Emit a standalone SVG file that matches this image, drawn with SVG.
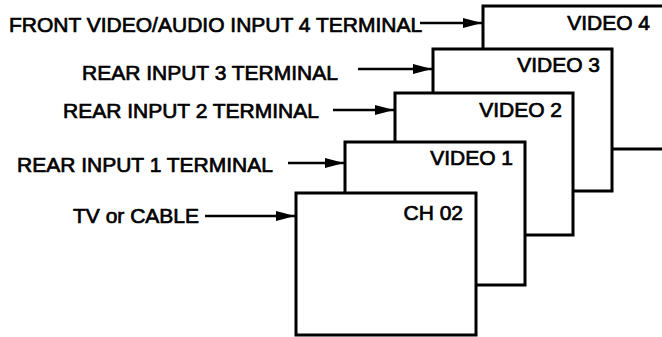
<svg xmlns="http://www.w3.org/2000/svg" width="662" height="337" viewBox="0 0 662 337">
  <style>
    .scr { fill: #ffffff; stroke: #000000; stroke-width: 3; }
    .lbl { font-family: "Liberation Sans", Arial, sans-serif; font-size: 21px; fill: #000000; stroke: #000000; stroke-width: 0.7px; }
    .vid { text-anchor: end; }
    .arr { stroke: #000000; stroke-width: 2.6; fill: none; marker-end: url(#ah); }
  </style>
  <defs>
    <marker id="ah" markerUnits="userSpaceOnUse" markerWidth="20" markerHeight="12" refX="19" refY="6" orient="auto">
      <path d="M0,1 L19,6 L0,11 Z" fill="#000000"/>
    </marker>
  </defs>
  <rect width="662" height="337" fill="#ffffff"/>

  <g id="video4">
    <rect class="scr" x="483" y="6" width="200" height="143"/>
    <text class="lbl vid" x="650" y="30">VIDEO 4</text>
  </g>
  <g id="video3">
    <rect class="scr" x="433" y="49" width="179" height="142"/>
    <text class="lbl vid" x="600" y="72">VIDEO 3</text>
  </g>
  <g id="video2">
    <rect class="scr" x="395" y="93" width="178" height="142"/>
    <text class="lbl vid" x="562" y="117">VIDEO 2</text>
  </g>
  <g id="video1">
    <rect class="scr" x="345" y="142" width="180" height="143"/>
    <text class="lbl vid" x="513" y="165">VIDEO 1</text>
  </g>
  <g id="ch02">
    <rect class="scr" x="296" y="193" width="180" height="142"/>
    <text class="lbl vid" x="463" y="220">CH 02</text>
  </g>

  <g id="label-front">
    <text class="lbl" x="9" y="32">FRONT VIDEO/AUDIO INPUT 4 TERMINAL</text>
  </g>
  <g id="label-rear3">
    <text class="lbl" x="82" y="80">REAR INPUT 3 TERMINAL</text>
  </g>
  <g id="label-rear2">
    <text class="lbl" x="63" y="118">REAR INPUT 2 TERMINAL</text>
  </g>
  <g id="label-rear1">
    <text class="lbl" x="17" y="172">REAR INPUT 1 TERMINAL</text>
  </g>
  <g id="label-tv">
    <text class="lbl" x="73" y="223">TV or CABLE</text>
  </g>

  <g id="connectors">
    <line class="arr" x1="420" y1="23" x2="482" y2="23"/>
    <line class="arr" x1="358" y1="69" x2="432" y2="69"/>
    <line class="arr" x1="333" y1="110" x2="394" y2="110"/>
    <line class="arr" x1="288" y1="163" x2="344" y2="163"/>
    <line class="arr" x1="205" y1="216" x2="295" y2="216"/>
  </g>
</svg>
